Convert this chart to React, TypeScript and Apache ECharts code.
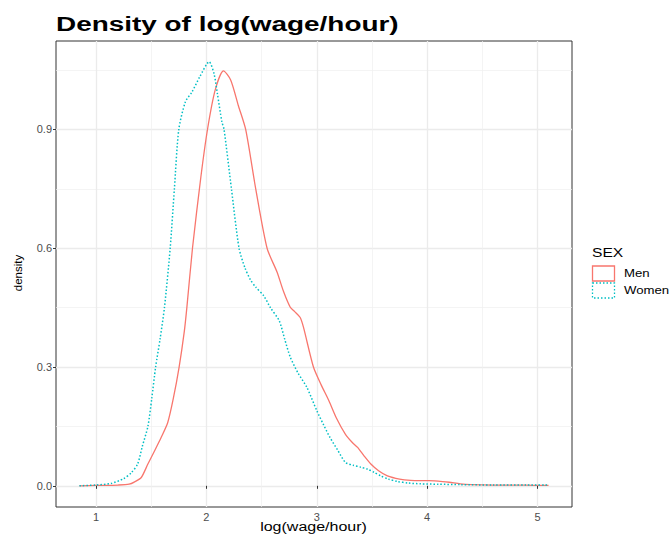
import React, { useEffect, useRef } from "react";
import * as echarts from "echarts";

const chartTitle = "Density of log(wage/hour)";
const xAxisTitle = "log(wage/hour)";
const yAxisTitle = "density";
const legendTitle = "SEX";
const seriesNames = ["Men", "Women"];
const seriesColors = ["#F8766D", "#00BFC4"];

const xTicks = [1, 2, 3, 4, 5];
const yTicks = [0, 0.3, 0.6, 0.9];
const xRange = [0.6375, 5.3125];
const yRange = [-0.0535, 1.1235];

const menX = [0.85, 1.0, 1.2, 1.3, 1.35, 1.41, 1.47, 1.53, 1.59, 1.65, 1.7, 1.753, 1.8, 1.823, 1.874, 1.95, 2.01, 2.08, 2.155, 2.22, 2.29, 2.356, 2.447, 2.55, 2.64, 2.7, 2.76, 2.8, 2.85, 2.88, 2.97, 3.04, 3.11, 3.18, 3.26, 3.32, 3.37, 3.43, 3.49, 3.56, 3.64, 3.75, 3.85, 4.0, 4.1, 4.2, 4.3, 4.4, 4.6, 4.8, 5.0, 5.1];
const menY = [0.0, 0.001, 0.002, 0.004, 0.01, 0.021, 0.055, 0.088, 0.122, 0.16, 0.22, 0.3, 0.39, 0.45, 0.6, 0.78, 0.9, 1.0, 1.048, 1.025, 0.96, 0.9, 0.75, 0.6, 0.54, 0.49, 0.451, 0.44, 0.425, 0.4, 0.3, 0.255, 0.215, 0.17, 0.13, 0.11, 0.097, 0.075, 0.055, 0.038, 0.025, 0.017, 0.014, 0.013, 0.012, 0.009, 0.005, 0.003, 0.002, 0.002, 0.001, 0.001];

const womenX = [0.85, 1.0, 1.136, 1.25, 1.32, 1.377, 1.42, 1.47, 1.505, 1.54, 1.58, 1.62, 1.672, 1.71, 1.75, 1.81, 1.87, 1.94, 2.025, 2.07, 2.1, 2.14, 2.16, 2.227, 2.296, 2.35, 2.4, 2.447, 2.52, 2.58, 2.66, 2.71, 2.76, 2.83, 2.91, 3.0, 3.06, 3.12, 3.19, 3.26, 3.33, 3.4, 3.46, 3.52, 3.58, 3.65, 3.73, 3.83, 3.94, 4.1, 4.3, 4.6, 4.9, 5.1];
const womenY = [0.0, 0.002, 0.006, 0.018, 0.033, 0.055, 0.1, 0.15, 0.22, 0.3, 0.37, 0.45, 0.6, 0.75, 0.9, 0.97, 0.995, 1.033, 1.071, 1.04, 0.99, 0.92, 0.9, 0.75, 0.6, 0.55, 0.52, 0.502, 0.48, 0.45, 0.417, 0.37, 0.325, 0.285, 0.249, 0.19, 0.155, 0.122, 0.09, 0.059, 0.052, 0.047, 0.042, 0.034, 0.025, 0.017, 0.011, 0.007, 0.005, 0.004, 0.003, 0.002, 0.002, 0.002];

const FONT = "'Liberation Sans', Arial, Helvetica, sans-serif";

export default function App() {
  const ref = useRef<HTMLDivElement>(null);

  useEffect(() => {
    if (!ref.current) return;
    const chart = echarts.init(ref.current, undefined, { renderer: "svg" });

    const gridLeft = 56;
    const gridTop = 41;
    const gridRight = 669 - 572;
    const gridBottom = 535 - 507;

    const pairs = (xs: number[], ys: number[]) => xs.map((x, i) => [x, ys[i]]);

    const legendX = 592;
    const graphics: any[] = [
      {
        type: "text",
        x: 56,
        y: 24,
        scaleX: 1.33,
        style: {
          text: chartTitle,
          fontSize: 21,
          fontWeight: "bold",
          fill: "#000",
          fontFamily: FONT,
          align: "left",
          verticalAlign: "middle",
        },
      },
      {
        type: "text",
        x: 313.5,
        y: 527,
        scaleX: 1.28,
        style: {
          text: xAxisTitle,
          fontSize: 12.5,
          fill: "#000",
          fontFamily: FONT,
          align: "center",
          verticalAlign: "middle",
        },
      },
      {
        type: "text",
        x: 18,
        y: 273,
        rotation: Math.PI / 2,
        style: {
          text: yAxisTitle,
          fontSize: 11.5,
          fill: "#000",
          fontFamily: FONT,
          align: "center",
          verticalAlign: "middle",
        },
      },
      {
        type: "text",
        x: legendX,
        y: 253,
        scaleX: 1.25,
        style: {
          text: legendTitle,
          fontSize: 12.5,
          fill: "#000",
          fontFamily: FONT,
          align: "left",
          verticalAlign: "middle",
        },
      },
    ];
    seriesNames.forEach((name, i) => {
      const y = 265.5 + i * 17;
      graphics.push({
        type: "rect",
        shape: { x: legendX + 0.5, y: y + 0.5, width: 22, height: 15 },
        style: {
          fill: "#fff",
          stroke: seriesColors[i],
          lineWidth: 1.3,
          lineDash: i === 0 ? null : [1.5, 2],
        },
      });
      graphics.push({
        type: "text",
        x: 624,
        y: y + 8,
        scaleX: 1.2,
        style: {
          text: name,
          fontSize: 11,
          fill: "#000",
          fontFamily: FONT,
          align: "left",
          verticalAlign: "middle",
        },
      });
    });

    const option: any = {
      animation: false,
      backgroundColor: "#fff",
      grid: {
        left: gridLeft,
        top: gridTop,
        right: gridRight,
        bottom: gridBottom,
        containLabel: false,
        outerBoundsMode: "none",
        show: true,
        borderColor: "#333333",
        borderWidth: 1,
        backgroundColor: "#fff",
      },
      xAxis: {
        type: "value",
        min: xRange[0],
        max: xRange[1],
        splitNumber: 5,
        axisLine: { show: false },
        axisTick: { show: true, length: 3, lineStyle: { color: "#333333" }, customValues: xTicks },
        axisLabel: {
          show: true,
          margin: 4,
          fontSize: 11,
          color: "#4D4D4D",
          fontFamily: FONT,
          customValues: xTicks,
          formatter: (v: number) => String(Math.round(v)),
        },
        splitLine: { show: true, lineStyle: { color: "#EBEBEB", width: 1.3 } },
        minorTick: { show: false, splitNumber: 2 },
        minorSplitLine: { show: true, lineStyle: { color: "#EFEFEF", width: 0.7 } },
      },
      yAxis: {
        type: "value",
        min: yRange[0],
        max: yRange[1],
        splitNumber: 4,
        axisLine: { show: false },
        axisTick: { show: true, length: 3, lineStyle: { color: "#333333" }, customValues: yTicks },
        axisLabel: {
          show: true,
          margin: 4,
          fontSize: 11,
          color: "#4D4D4D",
          fontFamily: FONT,
          customValues: yTicks,
          formatter: (v: number) => v.toFixed(1),
        },
        splitLine: { show: true, lineStyle: { color: "#EBEBEB", width: 1.3 } },
        minorTick: { show: false, splitNumber: 2 },
        minorSplitLine: { show: true, lineStyle: { color: "#EFEFEF", width: 0.7 } },
      },
      series: [
        {
          name: seriesNames[0],
          type: "line",
          data: pairs(menX, menY),
          showSymbol: false,
          symbol: "none",
          smooth: 0.25,
          lineStyle: { color: seriesColors[0], width: 1.3 },
          z: 3,
        },
        {
          name: seriesNames[1],
          type: "line",
          data: pairs(womenX, womenY),
          showSymbol: false,
          symbol: "none",
          smooth: 0.25,
          lineStyle: { color: seriesColors[1], width: 1.5, type: [1.5, 2] },
          z: 4,
        },
      ],
      graphic: graphics,
    };

    chart.setOption(option);
    return () => chart.dispose();
  }, []);

  return (
    <div
      ref={ref}
      style={{ position: "fixed", left: 0, top: 0, width: 669, height: 535, background: "#fff" }}
    />
  );
}
